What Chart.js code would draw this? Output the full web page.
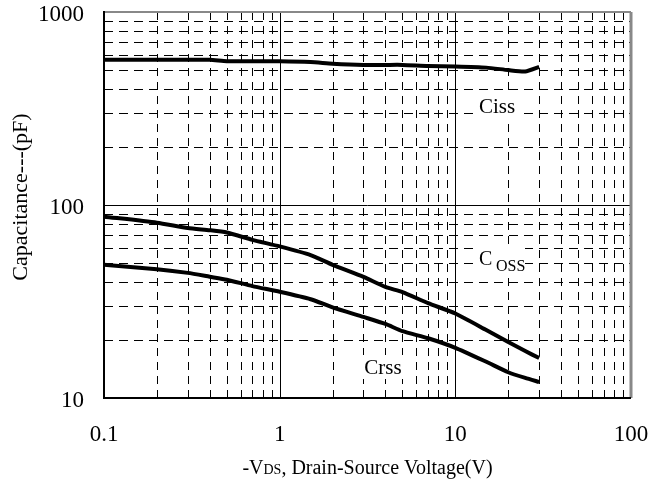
<!DOCTYPE html>
<html>
<head>
<meta charset="utf-8">
<script src="https://cdn.jsdelivr.net/npm/chart.js@4.4.0/dist/chart.umd.min.js"></script>
<style>
  body { margin: 0; background: #fff; }
  canvas { display: block; }
</style>
</head>
<body>
<canvas id="myChart" width="650" height="483"></canvas>
<script>
// -VDS (V)
var vds  = [0.1, 0.2, 0.3, 0.4, 0.5, 0.7, 1, 1.5, 2, 3, 4, 5, 7, 10, 15, 20, 25, 30];
// capacitances (pF)
var ciss = [565, 565, 565, 565, 556, 555, 555, 550, 540, 532, 532, 532, 525, 522, 515, 500, 492, 520];
var coss = [87, 81, 76, 74, 72, 66, 61, 55, 49, 42.4, 37.6, 35.4, 31, 27.4, 22.5, 19.5, 17.5, 16.1];
var crss = [49, 46.5, 44.5, 42.5, 41, 38, 35.5, 32.5, 29.5, 26.3, 24.2, 22.2, 20.4, 18.2, 15.4, 13.6, 12.7, 12.1];

var xTicks = [0.1, 1, 10, 100];
var yTicks = [10, 100, 1000];

var serif = '"Liberation Serif", "DejaVu Serif", serif';

function pts(ys) {
  return vds.map(function (v, i) { return { x: v, y: ys[i] }; });
}

// dashed minor grid + solid decade lines + frame
var gridPlugin = {
  id: 'logGrid',
  beforeDatasetsDraw: function (chart) {
    var c = chart.ctx, a = chart.chartArea;
    var xs = chart.scales.x, ys = chart.scales.y;
    c.save();
    c.lineWidth = 1;
    c.strokeStyle = '#000';
    // vertical
    [0.1, 1, 10].forEach(function (d) {
      for (var k = 1; k <= 9; k++) {
        var px = Math.round(xs.getPixelForValue(k * d)) + 0.5;
        c.setLineDash(k == 1 ? [] : [8, 6]);
        c.beginPath(); c.moveTo(px, a.top); c.lineTo(px, a.bottom); c.stroke();
      }
    });
    // horizontal
    [10, 100].forEach(function (d) {
      for (var k = 1; k <= 9; k++) {
        var py = Math.round(ys.getPixelForValue(k * d)) + 0.5;
        c.setLineDash(k == 1 ? [] : [9, 6]);
        c.beginPath(); c.moveTo(a.left, py); c.lineTo(a.right, py); c.stroke();
      }
    });
    c.setLineDash([]);
    // blank areas behind the curve names
    c.fillStyle = '#fff';
    c.fillRect(476, 94, 42, 24);
    c.fillRect(477, 247, 48, 26);
    c.fillRect(362, 355, 44, 24);
    // frame
    c.strokeStyle = '#888';
    c.lineWidth = 3;
    c.beginPath(); c.moveTo(a.right, a.top); c.lineTo(a.right, a.bottom); c.stroke();
    c.lineWidth = 2;
    c.beginPath(); c.moveTo(a.left, a.top); c.lineTo(a.right, a.top); c.stroke();
    c.strokeStyle = '#000';
    c.beginPath(); c.moveTo(a.left, a.top - 1); c.lineTo(a.left, a.bottom); c.lineTo(a.right, a.bottom); c.stroke();
    c.restore();
  },
  afterDraw: function (chart) {
    var c = chart.ctx, a = chart.chartArea;
    var xs = chart.scales.x, ys = chart.scales.y;
    c.save();
    c.fillStyle = '#000';
    // tick labels
    c.font = '23px ' + serif;
    c.textBaseline = 'middle';
    c.textAlign = 'center';
    xTicks.forEach(function (v) { c.fillText(String(v), xs.getPixelForValue(v), 435); });
    c.textAlign = 'right';
    yTicks.forEach(function (v) { c.fillText(String(v), 84, ys.getPixelForValue(v) + 3); });
    // curve names
    c.textBaseline = 'alphabetic';
    c.font = '21px ' + serif;
    c.textAlign = 'center';
    c.fillText('Ciss', 497, 113);
    c.fillText('Crss', 383, 374);
    c.textAlign = 'left';
    c.font = '20px ' + serif;
    c.fillText('C', 479, 265);
    c.font = '16px ' + serif;
    c.fillText('OSS', 496, 271);
    // x title with subscript
    var y0 = 474;
    var p1 = '-V', p2 = 'DS', p3 = ', Drain-Source Voltage(V)';
    c.font = '20px ' + serif; var w1 = c.measureText(p1).width, w3 = c.measureText(p3).width;
    c.font = '14px ' + serif; var w2 = c.measureText(p2).width;
    var x0 = (a.left + a.right) / 2 - (w1 + w2 + w3) / 2;
    c.font = '20px ' + serif; c.fillText(p1, x0, y0);
    c.font = '14px ' + serif; c.fillText(p2, x0 + w1, y0);
    c.font = '20px ' + serif; c.fillText(p3, x0 + w1 + w2, y0);
    // y title
    c.translate(21, 197);
    c.rotate(-Math.PI / 2);
    c.textAlign = 'center';
    c.textBaseline = 'middle';
    c.font = '22px ' + serif;
    c.fillText('Capacitance---(pF)', 0, 0);
    c.restore();
  }
};

var ctx = document.getElementById('myChart');
var myChart = new Chart(ctx, {
  type: 'line',
  data: {
    datasets: [
      { label: 'Ciss', data: pts(ciss) },
      { label: 'Coss', data: pts(coss) },
      { label: 'Crss', data: pts(crss) }
    ]
  },
  options: {
    responsive: false,
    animation: false,
    layout: { padding: { left: 0, right: 19, top: 12, bottom: 0 } },
    elements: {
      line: { borderColor: '#000', borderWidth: 4, tension: 0.2, fill: false },
      point: { radius: 0 }
    },
    plugins: { legend: { display: false }, tooltip: { enabled: false } },
    scales: {
      x: {
        type: 'logarithmic',
        min: 0.1, max: 100,
        grid: { display: false },
        border: { display: false },
        ticks: { display: false },
        afterFit: function (s) { s.height = 85; }
      },
      y: {
        type: 'logarithmic',
        min: 10, max: 1000,
        grid: { display: false },
        border: { display: false },
        ticks: { display: false },
        afterFit: function (s) { s.width = 104; }
      }
    }
  },
  plugins: [gridPlugin]
});
</script>
</body>
</html>
